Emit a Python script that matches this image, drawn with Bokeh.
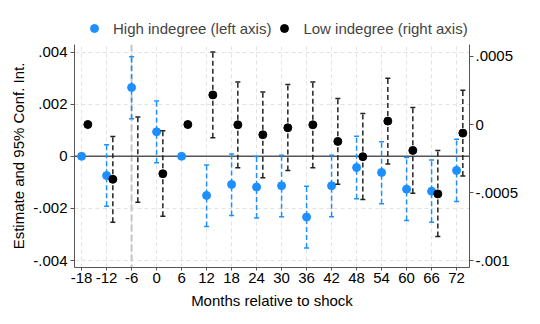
import math
from bokeh.plotting import figure
from bokeh.layouts import column, row
from bokeh.models import (ColumnDataSource, Range1d, LinearAxis, FixedTicker, Span,
                          Legend, LegendItem)
from bokeh.embed import file_html
from bokeh.resources import INLINE

nan = float("nan")

months = [-18, -12, -6, 0, 6, 12, 18, 24, 30, 36, 42, 48, 54, 60, 66, 72]

high_est = [0, -0.00074, 0.00264, 0.00094, 0, -0.00150, -0.00108, -0.00118,
            -0.00113, -0.00233, -0.00113, -0.00043, -0.00062, -0.00126, -0.00134, -0.00054]
high_lo = [nan, -0.00192, 0.00144, -0.00025, nan, -0.00269, -0.00227, -0.00237,
           -0.00232, -0.00352, -0.00232, -0.00163, -0.00182, -0.00246, -0.00253, -0.00173]
high_hi = [nan, 0.00044, 0.00382, 0.00212, nan, -0.00033, 0.00009, -0.00001,
           0.00004, -0.00115, 0.00004, 0.00077, 0.00056, -0.00005, -0.00014, 0.00065]

low_est = [0, -0.000402, nan, -0.000361, 0, 0.000217, -0.000002, -0.000075,
           -0.000024, -0.000002, -0.000124, -0.000236, 0.000025, -0.000190, -0.000509, -0.000063]
low_lo = [nan, -0.000717, -0.000571, -0.000673, nan, -0.000097, -0.000317, -0.000390,
          -0.000337, -0.000317, -0.000439, -0.000551, -0.000290, -0.000505, -0.000822, -0.000378]
low_hi = [nan, -0.000088, 0.000056, -0.000046, nan, 0.000532, 0.000312, 0.000239,
          0.000293, 0.000312, 0.000190, 0.000081, 0.000340, 0.000124, -0.000190, 0.000252]

left_ticks = [0.004, 0.002, 0, -0.002, -0.004]
left_labels = [".004", ".002", "0", "-.002", "-.004"]
right_ticks = [0.0005, 0, -0.0005, -0.001]
right_labels = [".0005", "0", "-.0005", "-.001"]
x_ticks = months
x_labels = ["-18", "-12", "-6", "0", "6", "12", "18", "24", "30", "36", "42", "48",
            "54", "60", "66", "72"]
series_names = ["High indegree (left axis)", "Low indegree (right axis)"]

FONT = "Liberation Sans"
BLUE = "#1E8FFF"
BLACK = "#000000"
OFFSET = 1.5  # horizontal dodge for the low-indegree series

p = figure(width=531, height=276, output_backend="svg", toolbar_location=None,
           x_range=Range1d(-19.7, 75.1), y_range=Range1d(-0.004266, 0.004289),
           min_border_left=74, min_border_right=62, min_border_top=4, min_border_bottom=49)
p.extra_y_ranges = {"right": Range1d(-0.001049, 0.000587)}
p.outline_line_color = None
p.background_fill_color = "white"

# axes
p.xaxis.ticker = FixedTicker(ticks=x_ticks)
p.xaxis.major_label_overrides = dict(zip(x_ticks, x_labels))
p.yaxis.ticker = FixedTicker(ticks=left_ticks)
p.yaxis.major_label_overrides = dict(zip(left_ticks, left_labels))
p.xaxis.axis_label = "Months relative to shock"
p.yaxis.axis_label = "Estimate and 95% Conf. Int."

raxis = LinearAxis(y_range_name="right", ticker=FixedTicker(ticks=right_ticks),
                   major_label_overrides=dict(zip(right_ticks, right_labels)))
p.add_layout(raxis, "right")

for ax in [p.xaxis[0], p.yaxis[0], raxis]:
    ax.axis_line_color = "#555555"
    ax.major_tick_line_color = "#555555"
    ax.minor_tick_line_color = None
    ax.major_tick_in = 0
    ax.major_label_text_font = FONT
    ax.major_label_text_font_size = "15px"
    ax.major_label_text_color = "black"
    ax.axis_label_text_font = FONT
    ax.axis_label_text_font_size = "15px"
    ax.axis_label_text_font_style = "normal"
    ax.axis_label_text_color = "black"
p.xaxis.major_tick_out = 3
p.xaxis.major_label_standoff = 2
p.xaxis.axis_label_standoff = 6
p.yaxis.major_tick_out = 4
p.yaxis.major_label_standoff = 3
p.yaxis.axis_label_standoff = 3
raxis.major_tick_out = 4
raxis.major_label_standoff = 2

# grid
p.xgrid.ticker = FixedTicker(ticks=x_ticks)
p.ygrid.ticker = FixedTicker(ticks=left_ticks)
for g in [p.xgrid[0], p.ygrid[0]]:
    g.grid_line_color = "#e3e3e3"
    g.grid_line_dash = "4 3"
    g.grid_line_width = 1

# reference lines
p.add_layout(Span(location=-6, dimension="height", line_color="#c4c4c4",
                  line_width=2, line_dash="7 3", level="underlay"))
p.add_layout(Span(location=0, dimension="width", line_color="#555555",
                  line_width=1.5, level="underlay"))

hs = ColumnDataSource(dict(x=months, est=high_est, lo=high_lo, hi=high_hi))
ls = ColumnDataSource(dict(x=[m + OFFSET for m in months], est=low_est, lo=low_lo, hi=low_hi))

# high indegree (left axis)
p.segment(x0="x", y0="lo", x1="x", y1="hi", source=hs, line_color=BLUE,
          line_width=1.5, line_dash="5 3")
p.scatter(x="x", y="lo", source=hs, marker="dash", size=5, line_color=BLUE, line_width=1.5)
p.scatter(x="x", y="hi", source=hs, marker="dash", size=5, line_color=BLUE, line_width=1.5)
p.scatter(x="x", y="est", source=hs, marker="circle", size=8, fill_color=BLUE,
          line_color=BLUE)

# low indegree (right axis)
p.segment(x0="x", y0="lo", x1="x", y1="hi", source=ls, line_color="#222222",
          line_width=1.5, line_dash="5 3", y_range_name="right")
p.scatter(x="x", y="lo", source=ls, marker="dash", size=5, line_color="#222222",
          line_width=1.5, y_range_name="right")
p.scatter(x="x", y="hi", source=ls, marker="dash", size=5, line_color="#222222",
          line_width=1.5, y_range_name="right")
p.scatter(x="x", y="est", source=ls, marker="circle", size=8, fill_color=BLACK,
          line_color=BLACK, y_range_name="right")

# legend strip on its own small figure above the chart
lf = figure(width=531, height=40, output_backend="svg", toolbar_location=None,
            x_axis_type=None, y_axis_type=None, x_range=Range1d(0, 1), y_range=Range1d(0, 1),
            min_border_left=0, min_border_right=0, min_border_top=0, min_border_bottom=0)
lf.outline_line_color = None
lf.xgrid.visible = False
lf.ygrid.visible = False
lb = lf.scatter(x=[0], y=[nan], marker="circle", size=5.5, fill_color=BLUE, line_color=BLUE)
lk = lf.scatter(x=[0], y=[nan], marker="circle", size=5.5, fill_color=BLACK, line_color=BLACK)
legend = Legend(items=[LegendItem(label=series_names[0], renderers=[lb]),
                       LegendItem(label=series_names[1], renderers=[lk])],
                orientation="horizontal", location=(84, 2),
                border_line_color=None, background_fill_alpha=0,
                label_text_font=FONT, label_text_font_size="15px",
                glyph_width=20, glyph_height=20, label_standoff=9, spacing=3,
                padding=0, margin=0)
lf.add_layout(legend, "center")

layout = column(row(lf, spacing=0), p, spacing=0)
open("out.html", "w").write(file_html(layout, INLINE))
